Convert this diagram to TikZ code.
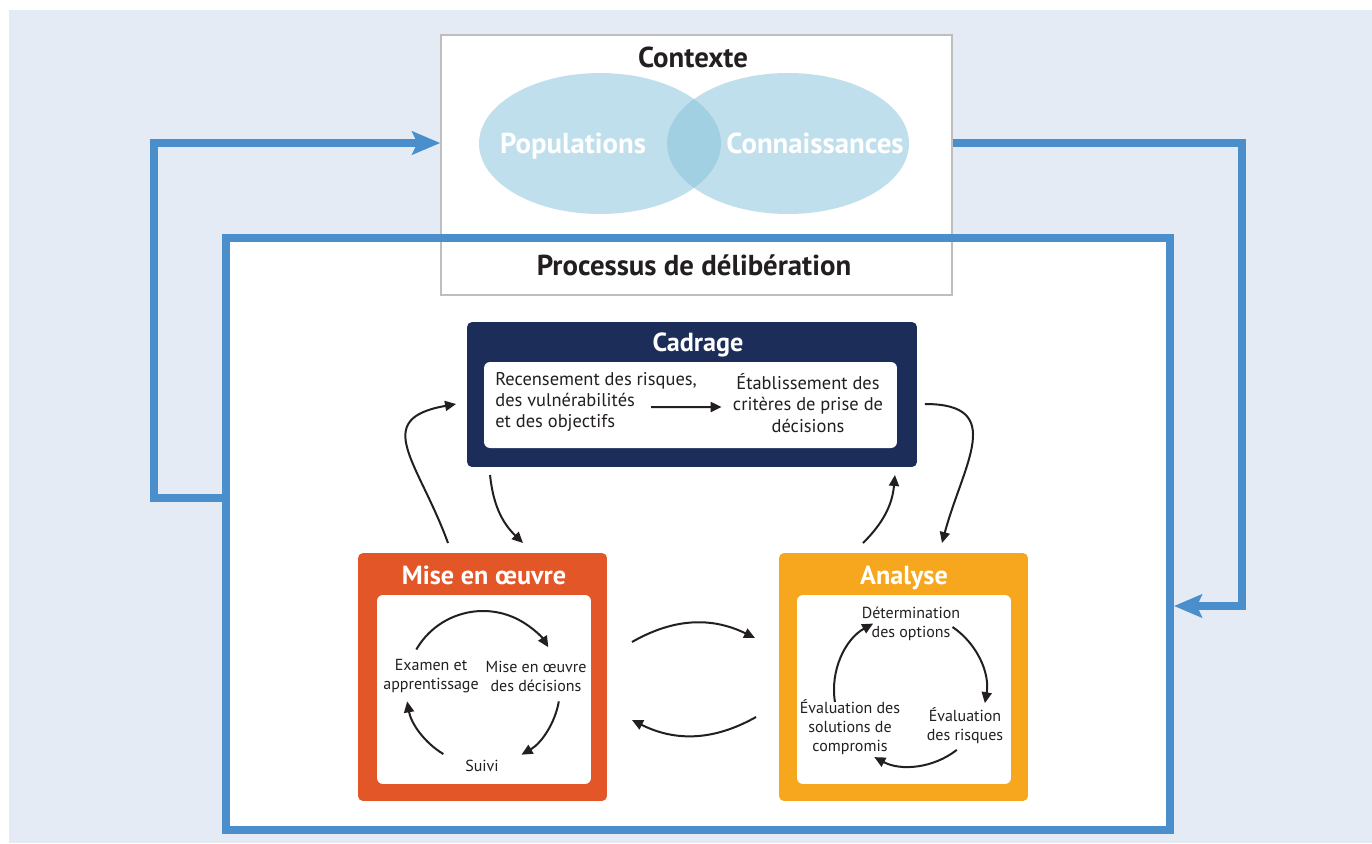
\documentclass[tikz,border=0pt]{standalone}
\usepackage{fontspec}
\setmainfont{PT Sans}
\usepackage{xcolor}
\usepackage{tikz}
\usetikzlibrary{positioning, arrows.meta, shapes.geometric}

\definecolor{fond}{RGB}{228,235,245}
\definecolor{bleu}{RGB}{74,143,203}
\definecolor{marine}{RGB}{28,45,90}
\definecolor{rouge}{RGB}{226,86,39}
\definecolor{jaune}{RGB}{246,167,30}
\definecolor{celeste}{RGB}{138,197,220}
\definecolor{texte}{RGB}{35,31,32}
\definecolor{gris}{RGB}{190,190,190}

\begin{document}
\begin{tikzpicture}[x=0.02cm, y=0.02cm,
	grand/.style={font=\bfseries\fontsize{16.4}{19}\selectfont, inner sep=0, anchor=base},
	titre/.style={font=\bfseries\fontsize{14.9}{17}\selectfont, text=white, inner sep=0, anchor=base},
	corps/.style={font=\fontsize{10.5}{12}\selectfont, text=texte, inner sep=0},
	petit/.style={font=\fontsize{9.1}{10.8}\selectfont, text=texte, align=center, inner sep=0},
	phase/.style={rounded corners=0.1cm, minimum width=4.98cm, minimum height=4.96cm, inner sep=0, outer sep=0},
	interieur/.style={fill=white, rounded corners=0.12cm, inner sep=0, outer sep=0},
	fleche/.style={-{Triangle[length=0.22cm,width=0.2cm]}, line width=0.04cm, texte},
	retour/.style={-{Stealth[length=0.56cm,width=0.46cm,inset=0.1cm]}, line width=0.16cm, bleu},
	venn/.style={ellipse, fill=celeste, fill opacity=0.54, minimum width=4.84cm, minimum height=2.82cm, inner sep=0}]
	
	% Fond
	\fill[white] (0,0) rectangle (1372,-843);
	\fill[fond] (9,-10) rectangle (1372,-843);
	\useasboundingbox (0,0) rectangle (1372,-843);
	
	% Processus
	\node[fill=white, minimum width=18.88cm, minimum height=11.84cm, inner sep=0, outer sep=0] (proc) at (698,-534) {};
	
	% Contexte
	\node[draw=gris, line width=0.03cm, fill=white, minimum width=10.22cm, minimum height=5.2cm, inner sep=0] (ctx) at (696.5,-165) {};
	\node[venn] (pop) at (600,-143.5) {};
	\node[venn] (con) at (788,-143.5) {};
	\node[grand, text=white] at ([xshift=-0.54cm, yshift=-0.19cm]pop) {Populations};
	\node[grand, text=white] at ([xshift=0.54cm, yshift=-0.19cm]con) {Connaissances};
	\node[grand, text=texte] at (693,-67) {Contexte};
	\draw[bleu, line width=0.16cm] (proc.north west) rectangle (proc.south east);
	\node[grand, text=texte] at (694,-275) {Processus de délibération};
	
	% Retours
	\coordinate (gauche) at (154,-300);
	\coordinate (droite) at (1242,-400);
	\draw[retour] ([yshift=0.72cm]proc.west) -| (gauche) |- ([yshift=0.44cm]ctx.west);
	\draw[retour] ([yshift=0.44cm]ctx.east) -| (droite) |- ([xshift=0.08cm, yshift=-1.44cm]proc.east);
	
	% Cadrage
	\node[phase, fill=marine, minimum width=9cm, minimum height=2.9cm] (cad) at (692,-394.5) {};
	\node[interieur, minimum width=8.26cm, minimum height=1.72cm] at (690.5,-405) {};
	\node[titre] at (698,-351) {Cadrage};
	\node[corps, anchor=west, align=left] (rec) at (495,-402) {Recensement des risques,\\des vulnérabilités\\et des objectifs};
	\node[corps, align=center] (etab) at (808,-403) {Établissement des\\critères de prise de\\décisions};
	\draw[fleche] ([xshift=-0.92cm, yshift=-0.1cm]rec.east) -- ([xshift=-0.22cm, yshift=-0.08cm]etab.west);
	
	% Mise en oeuvre
	\node[phase, fill=rouge] (mise) at (482.5,-677) {};
	\node[interieur, minimum width=4.28cm, minimum height=3.78cm] at (484,-689.5) {};
	\node[titre] at (484,-584) {Mise en œuvre};
	\coordinate (mc) at (483,-688);
	\node[petit] (exam) at (431,-676) {Examen et\\apprentissage};
	\node[petit] (mdec) at (536,-676) {Mise en œuvre\\des décisions};
	\node[petit] (suivi) at (482,-766) {Suivi};
	\draw[fleche] ([shift={(150:77)}]mc) arc (150:32:77);
	\draw[fleche] ([shift={(-10:77)}]mc) arc (-10:-60:77);
	\draw[fleche] ([shift={(-121:77)}]mc) arc (-121:-170:77);
	
	% Analyse
	\node[phase, fill=jaune] (anal) at (903.5,-677) {};
	\node[interieur, minimum width=4.28cm, minimum height=3.78cm] at (904,-689.5) {};
	\node[titre] at (904,-584) {Analyse};
	\coordinate (ac) at (910,-690);
	\node[petit] (det) at (911,-624) {Détermination\\des options};
	\node[petit] (evr) at (965,-726) {Évaluation\\des risques};
	\node[petit] (evs) at (850,-727) {Évaluation des\\solutions de\\compromis};
	\draw[fleche] ([shift={(56:76)}]ac) arc (56:-10:76);
	\draw[fleche] ([shift={(-52:76)}]ac) arc (-52:-118:76);
	\draw[fleche] ([shift={(189:76)}]ac) arc (189:119:76);
	
	% Liens entre phases
	\draw[fleche] ([shift={(25,35)}]mise.east) to[bend left=28] ([shift={(-24,39)}]anal.west);
	\draw[fleche] ([shift={(-23,-40)}]anal.west) to[bend left=28] ([shift={(25,-43)}]mise.east);
	\draw[fleche] ([shift={(-34.5,10)}]mise.north) to[out=110, in=190, looseness=1.6] ([shift={(-11,-9.5)}]cad.west);
	\draw[fleche] ([shift={(23,-8)}]cad.south west) to[bend right=20] ([shift={(40.5,10)}]mise.north);
	\draw[fleche] ([shift={(8,-9.5)}]cad.east) to[out=0, in=75, looseness=1.5] ([shift={(38.5,10)}]anal.north);
	\draw[fleche] ([shift={(-40.5,10)}]anal.north) to[bend right=20] ([shift={(-22,-8)}]cad.south east);
\end{tikzpicture}
\end{document}
